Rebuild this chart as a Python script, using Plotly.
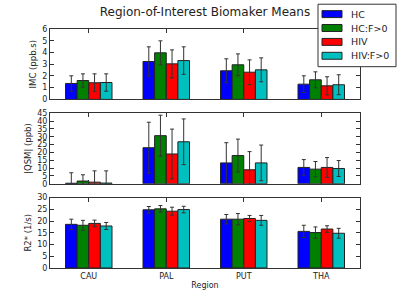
import plotly.graph_objects as go
from plotly.subplots import make_subplots

regions = ["CAU", "PAL", "PUT", "THA"]
groups = ["HC", "HC:F>0", "HIV", "HIV:F>0"]
colors = ["#0000ff", "#008000", "#ff0000", "#00bfbf"]

# IMC (ppb.s): one list per group (CAU, PAL, PUT, THA)
imc_means = [
    [1.36, 3.23, 2.44, 1.30],
    [1.61, 3.97, 2.95, 1.67],
    [1.42, 3.03, 2.32, 1.16],
    [1.44, 3.31, 2.52, 1.25],
]
imc_errs = [
    [0.65, 1.25, 1.02, 0.71],
    [0.57, 1.02, 0.93, 0.68],
    [0.76, 1.19, 1.05, 0.77],
    [0.74, 1.17, 1.02, 0.85],
]

# |QSM| (ppb)
qsm_means = [
    [0.3, 23.0, 13.3, 10.4],
    [1.7, 30.7, 18.0, 9.3],
    [1.0, 19.0, 8.9, 10.4],
    [0.4, 26.8, 13.3, 9.7],
]
qsm_errs = [
    [6.7, 16.3, 12.9, 5.0],
    [4.0, 13.1, 10.5, 4.9],
    [7.2, 15.9, 11.6, 6.3],
    [7.8, 14.6, 11.4, 5.1],
]

# R2* (1/s)
r2_means = [
    [18.6, 24.8, 20.8, 15.6],
    [18.2, 25.2, 20.8, 15.1],
    [19.0, 24.2, 21.1, 16.6],
    [17.9, 24.9, 20.3, 14.8],
]
r2_errs = [
    [2.2, 1.4, 2.0, 2.6],
    [2.1, 1.4, 2.4, 2.4],
    [1.4, 1.7, 1.3, 1.4],
    [1.5, 1.4, 2.1, 2.1],
]

panels = [
    ("IMC (ppb.s)", imc_means, imc_errs, [0, 6], 1),
    ("|QSM| (ppb)", qsm_means, qsm_errs, [0, 45], 5),
    ("R2* (1/s)", r2_means, r2_errs, [0, 30], 5),
]

FONT = "DejaVu Sans"
TXT = "#222"
fig = make_subplots(rows=3, cols=1, shared_xaxes=True, vertical_spacing=14 / 241)

for r, (label, means, errs, yr, dt) in enumerate(panels, start=1):
    for g, name in enumerate(groups):
        fig.add_trace(
            go.Bar(
                x=regions, y=means[g], name=name,
                marker=dict(color=colors[g], line=dict(color="#222", width=1)),
                error_y=dict(type="data", array=errs[g], color="#333",
                             thickness=1, width=2),
                showlegend=False,
            ),
            row=r, col=1,
        )
    fig.update_yaxes(
        title=dict(text=label, font=dict(size=8.5, family=FONT, color=TXT), standoff=4),
        range=yr, dtick=dt, tick0=0, ticks="inside", ticklen=4, tickcolor="#333",
        showline=True, linecolor="#333", linewidth=1, mirror="ticks",
        showgrid=False, zeroline=False,
        tickfont=dict(size=8, family=FONT, color=TXT),
        row=r, col=1,
    )
    fig.update_xaxes(
        range=[-0.5, 3.5], ticks="inside", ticklen=4, tickcolor="#333",
        showline=True, linecolor="#333", linewidth=1, mirror="ticks",
        showgrid=False, zeroline=False,
        tickfont=dict(size=8, family=FONT, color=TXT),
        row=r, col=1,
    )

fig.update_xaxes(title=dict(text="Region", font=dict(size=8, family=FONT, color=TXT),
                            standoff=2), row=3, col=1)

# Manual legend box (matplotlib style) in paper coordinates
L, PW, B, PH = 50, 310, 270, 241


def px(xp):
    return (xp - L) / PW


def py(yp):
    return (B - yp) / PH


shapes = [dict(type="rect", xref="paper", yref="paper",
               x0=px(318), x1=px(396), y0=py(67), y1=py(4),
               fillcolor="white", line=dict(color="#333", width=1), layer="above")]
annotations = []
for g, name in enumerate(groups):
    yc = 14 + 14 * g
    shapes.append(dict(type="rect", xref="paper", yref="paper",
                       x0=px(322), x1=px(342), y0=py(yc + 3.5), y1=py(yc - 3.5),
                       fillcolor=colors[g], line=dict(color="#222", width=1),
                       layer="above"))
    annotations.append(dict(text=name, xref="paper", yref="paper",
                            x=px(349), y=py(yc), xanchor="left", yanchor="middle",
                            showarrow=False,
                            font=dict(size=9.5, family=FONT, color=TXT)))

fig.update_layout(
    width=400, height=300,
    margin=dict(l=50, r=40, t=29, b=30),
    paper_bgcolor="white", plot_bgcolor="white",
    barmode="group", bargap=0.4, bargroupgap=0,
    font=dict(family=FONT, size=8, color=TXT),
    showlegend=False,
    shapes=shapes,
    annotations=list(fig.layout.annotations) + annotations,
    title=dict(text="Region-of-Interest Biomaker Means",
               font=dict(size=12, family=FONT, color=TXT),
               x=0.5, xref="paper", xanchor="center",
               y=1 - 12 / 300, yref="container", yanchor="middle"),
)

fig.write_html("out.html",
               config={"displayModeBar": False},
               post_script="document.body.style.margin='0';document.body.style.padding='0';")
